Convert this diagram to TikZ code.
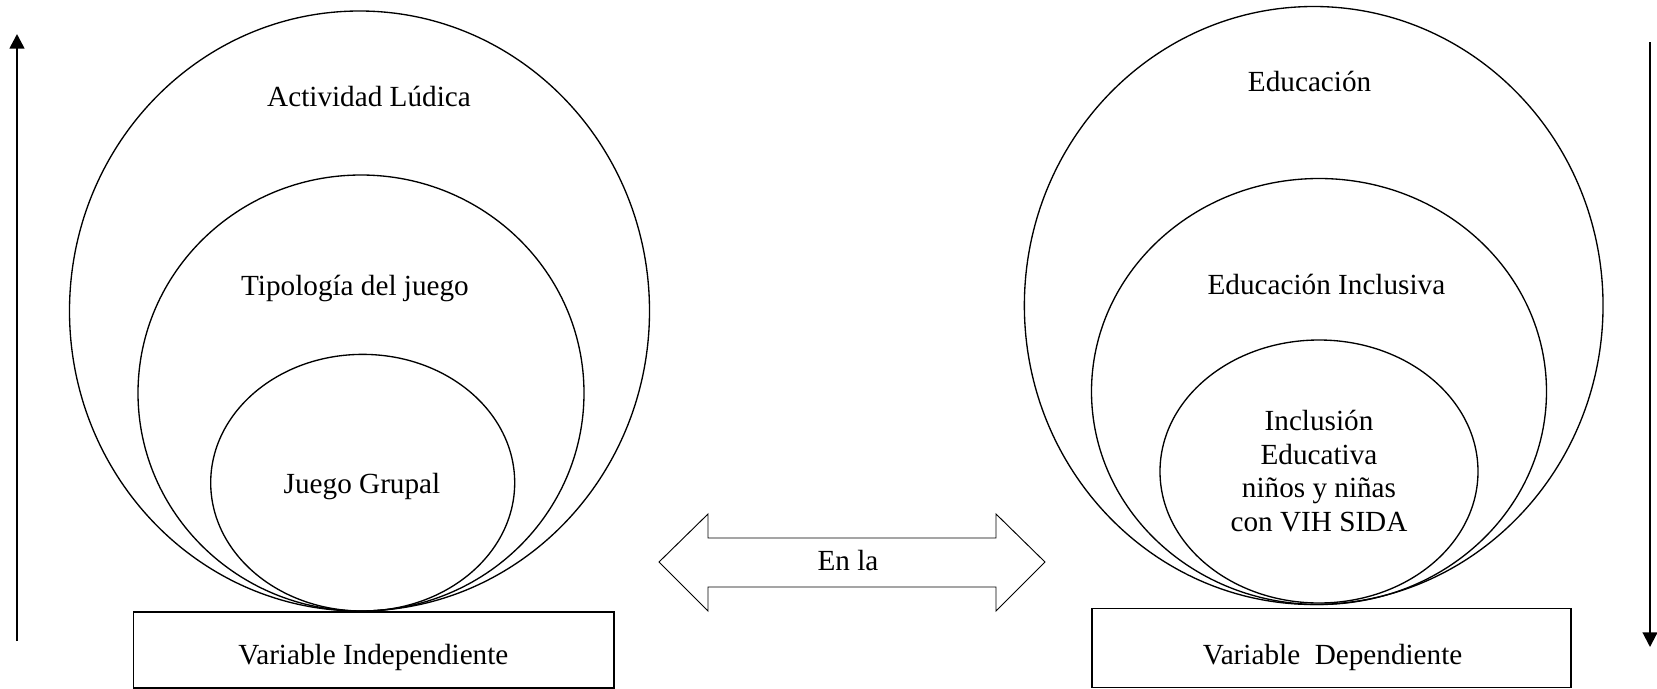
\documentclass[tikz,border=0pt]{standalone}
\usepackage{fontspec}
\setmainfont{Liberation Serif}
\usetikzlibrary{shapes.geometric,arrows.meta}
\begin{document}
\begin{tikzpicture}[x=0.75pt,y=-0.75pt,
  ring/.style={draw, ellipse, inner sep=0pt, outer sep=0pt, line width=1pt},
  varbox/.style={draw, rectangle, inner sep=0pt, line width=1.2pt},
  lbl/.style={font=\fontsize{21.9}{25.1}\selectfont, inner sep=0pt, anchor=base, align=center},
  vArrow/.style={line width=1.8pt, -{Triangle[width=11pt,length=11pt]}},
  bigarrow/.style={draw, line width=0.7pt, line join=miter}]
\useasboundingbox (0,0) rectangle (1657,689);

% left rings
\node[ring, minimum width=435pt, minimum height=450pt] (L1) at (359.5,311) {};
\node[ring, minimum width=334.5pt, minimum height=327pt] (L2) at (361,393) {};
\node[ring, minimum width=228pt, minimum height=192.5pt] (L3) at (362.7,482.7) {};
\node[lbl] (tL1) at (369,106.5) {Actividad Lúdica};
\node[lbl] (tL2) at (355,295) {Tipología del juego};
\node[lbl] (tL3) at (362,493.4) {Juego Grupal};

% right rings
\node[ring, minimum width=434pt, minimum height=448.5pt] (R1) at (1313.7,305.5) {};
\node[ring, minimum width=341.25pt, minimum height=319.5pt] (R2) at (1319,391.5) {};
\node[ring, minimum width=238.5pt, minimum height=197.25pt] (R3) at (1319,471.5) {};
\node[lbl] (tR1) at (1309.6,91) {Educación};
\node[lbl] (tR2) at (1326.4,294.7) {Educación Inclusiva};
\node[lbl] (tR3) at (1319,531) {Inclusión\\Educativa\\niños y niñas\\con VIH SIDA};

% boxes
\node[varbox, minimum width=360.5pt, minimum height=57pt] (boxL) at (373.7,650) {};
\node[lbl] (tBL) at (373.4,664.4) {Variable Independiente};
\node[varbox, minimum width=359.25pt, minimum height=59pt] (boxR) at (1331.5,648) {};
\node[lbl] (tBR) at (1332.6,664.4) {Variable\ \ Dependiente};

% double arrow
\draw[bigarrow] (659,562) -- (708,514) -- (708,538) -- (996,538) -- (996,514)
  -- (1045,562) -- (996,611) -- (996,587) -- (708,587) -- (708,611) -- cycle;
\node[lbl] (tMid) at (848,570) {En la};

% vertical arrows
\coordinate (aLs) at (17,641);
\coordinate (aLe) at (17,34);
\draw[vArrow, line width=2pt] (aLs) -- (aLe);
\coordinate (aRs) at (1650,42);
\coordinate (aRe) at (1650,647);
\draw[vArrow, line width=1.6pt] (aRs) -- (aRe);
\end{tikzpicture}
\end{document}
